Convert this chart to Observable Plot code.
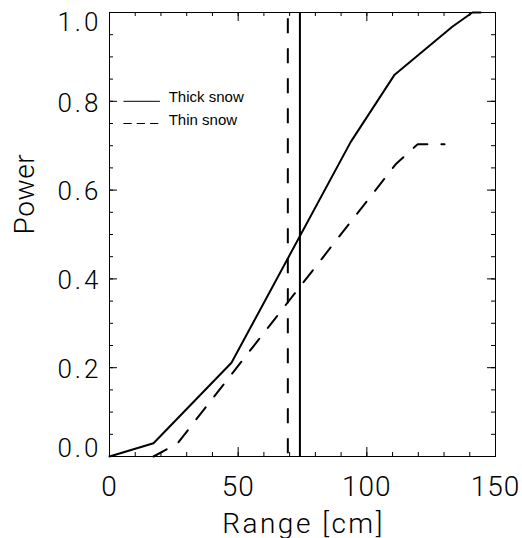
<!DOCTYPE html>
<html><head><meta charset="utf-8">
<script src="https://cdn.jsdelivr.net/npm/d3@7"></script>
<script src="https://cdn.jsdelivr.net/npm/@observablehq/plot@0.6"></script>
<style>html,body{margin:0;padding:0;background:#fff}</style>
</head><body><div id="chart"></div>
<script>
// Data
const thickRange = [0, 17.1, 47.4, 93.7, 110.8, 133.2, 141.0, 144.2];
const thickPower = [0, 0.030, 0.211, 0.708, 0.860, 0.968, 1.0, 1.0];
const thinRange  = [17.1, 26.5, 111.2, 119.7, 130.2];
const thinPower  = [0, 0.030, 0.658, 0.703, 0.703];
const thickThreshold = 74.0;
const thinThreshold  = 69.3;
const xMajorTicks = [0, 50, 100, 150];
const xMinorTicks = d3.range(0, 151, 10);
const yMajorTicks = [0, 0.2, 0.4, 0.6, 0.8, 1.0];
const yMinorTicks = d3.range(0, 21).map(i => i * 0.05);
const legendLabels = ["Thick snow", "Thin snow"];
const legendPower = [0.80, 0.75];
const legendRange = [5.6, 19.8, 23.0]; // line start, line end, text start
const xDomain = [0, 150], yDomain = [0, 1];

// Layout
const W = 522, H = 538, mL = 109, mR = 27, mT = 12, mB = 82;
const frameW = W - mL - mR, frameH = H - mT - mB;
const minorLen = 4, xMajorLen = 9, yMajorLen = 8;

const bigFont = {fontFamily: "Roboto, 'DejaVu Sans', sans-serif", fontWeight: 300};
const fmt = d => d.toFixed(1);
const yLab = {anchor: "left", tickSize: 0, tickPadding: 8, fontSize: 26, tickFormat: fmt, label: null, ...bigFont};

const chart = Plot.plot({
  width: W,
  height: H,
  marginLeft: mL,
  marginRight: mR,
  marginTop: mT,
  marginBottom: mB,
  style: {background: "#fff", color: "#000", overflow: "visible"},
  x: {domain: xDomain, label: null},
  y: {domain: yDomain, label: null},
  marks: [
    // tick labels
    Plot.axisX(xMajorTicks, {anchor: "bottom", tickSize: 0, tickPadding: 20, fontSize: 28, label: null, ...bigFont}),
    Plot.axisY(yMajorTicks.slice(1, -1), {...yLab, dy: 2}),
    Plot.axisY(yMajorTicks.slice(0, 1), {...yLab, lineAnchor: "bottom"}),
    Plot.axisY(yMajorTicks.slice(-1), {...yLab, lineAnchor: "top"}),
    // axis titles
    Plot.text(["Range [cm]"], {frameAnchor: "bottom", dy: 76, dx: 1, lineAnchor: "bottom", fontSize: 28, ...bigFont}),
    Plot.text(["Power"], {frameAnchor: "left", dx: -76, rotate: -90, lineAnchor: "bottom", fontSize: 28, ...bigFont}),
    // data
    Plot.line(thickPower, {x: thickRange, y: thickPower, stroke: "#000", strokeWidth: 2}),
    Plot.line(thinPower, {x: thinRange, y: thinPower, stroke: "#000", strokeWidth: 2, strokeDasharray: "15,14"}),
    Plot.ruleX([thickThreshold], {stroke: "#000", strokeWidth: 2}),
    Plot.ruleX([thinThreshold], {stroke: "#000", strokeWidth: 2, strokeDasharray: "15,15", strokeDashoffset: 23.7}),
    // legend
    Plot.ruleY([legendPower[0]], {x1: legendRange[0], x2: legendRange[1], stroke: "#000", strokeWidth: 1}),
    Plot.ruleY([legendPower[1]], {x1: legendRange[0], x2: legendRange[1], stroke: "#000", strokeWidth: 1, strokeDasharray: "8.3,5"}),
    Plot.text(legendLabels, {x: legendRange[2], y: legendPower, text: d => d, textAnchor: "start", lineAnchor: "bottom", dy: 1, fontSize: 15, fontFamily: "'Liberation Sans', Arial, sans-serif"}),
    Plot.frame({stroke: "#000", strokeWidth: 1}),
    // inward ticks on all four sides (drawn last)
    Plot.tickX(xMinorTicks, {x: d => d, insetTop: frameH - minorLen, stroke: "#000", strokeWidth: 1}),
    Plot.tickX(xMajorTicks, {x: d => d, insetTop: frameH - xMajorLen, stroke: "#000", strokeWidth: 1}),
    Plot.tickX(xMinorTicks, {x: d => d, insetBottom: frameH - minorLen, stroke: "#000", strokeWidth: 1}),
    Plot.tickX(xMajorTicks, {x: d => d, insetBottom: frameH - xMajorLen, stroke: "#000", strokeWidth: 1}),
    Plot.tickY(yMinorTicks, {y: d => d, insetRight: frameW - minorLen, stroke: "#000", strokeWidth: 1}),
    Plot.tickY(yMajorTicks, {y: d => d, insetRight: frameW - yMajorLen, stroke: "#000", strokeWidth: 1}),
    Plot.tickY(yMinorTicks, {y: d => d, insetLeft: frameW - minorLen, stroke: "#000", strokeWidth: 1}),
    Plot.tickY(yMajorTicks, {y: d => d, insetLeft: frameW - yMajorLen, stroke: "#000", strokeWidth: 1})
  ]
});
// Wider letter spacing, as in the reference's stroke font
const spacing = {"Range [cm]": "2.5px", "Power": "0.6px"};
d3.select(chart).selectAll("text").each(function () {
  const t = this.textContent;
  if (spacing[t]) this.style.letterSpacing = spacing[t];
  else if (/^\d\.\d$/.test(t)) this.style.letterSpacing = "3px";
  else if (/^\d+$/.test(t)) this.style.letterSpacing = "1px";
});
document.getElementById("chart").appendChild(chart);
</script>
</body></html>
